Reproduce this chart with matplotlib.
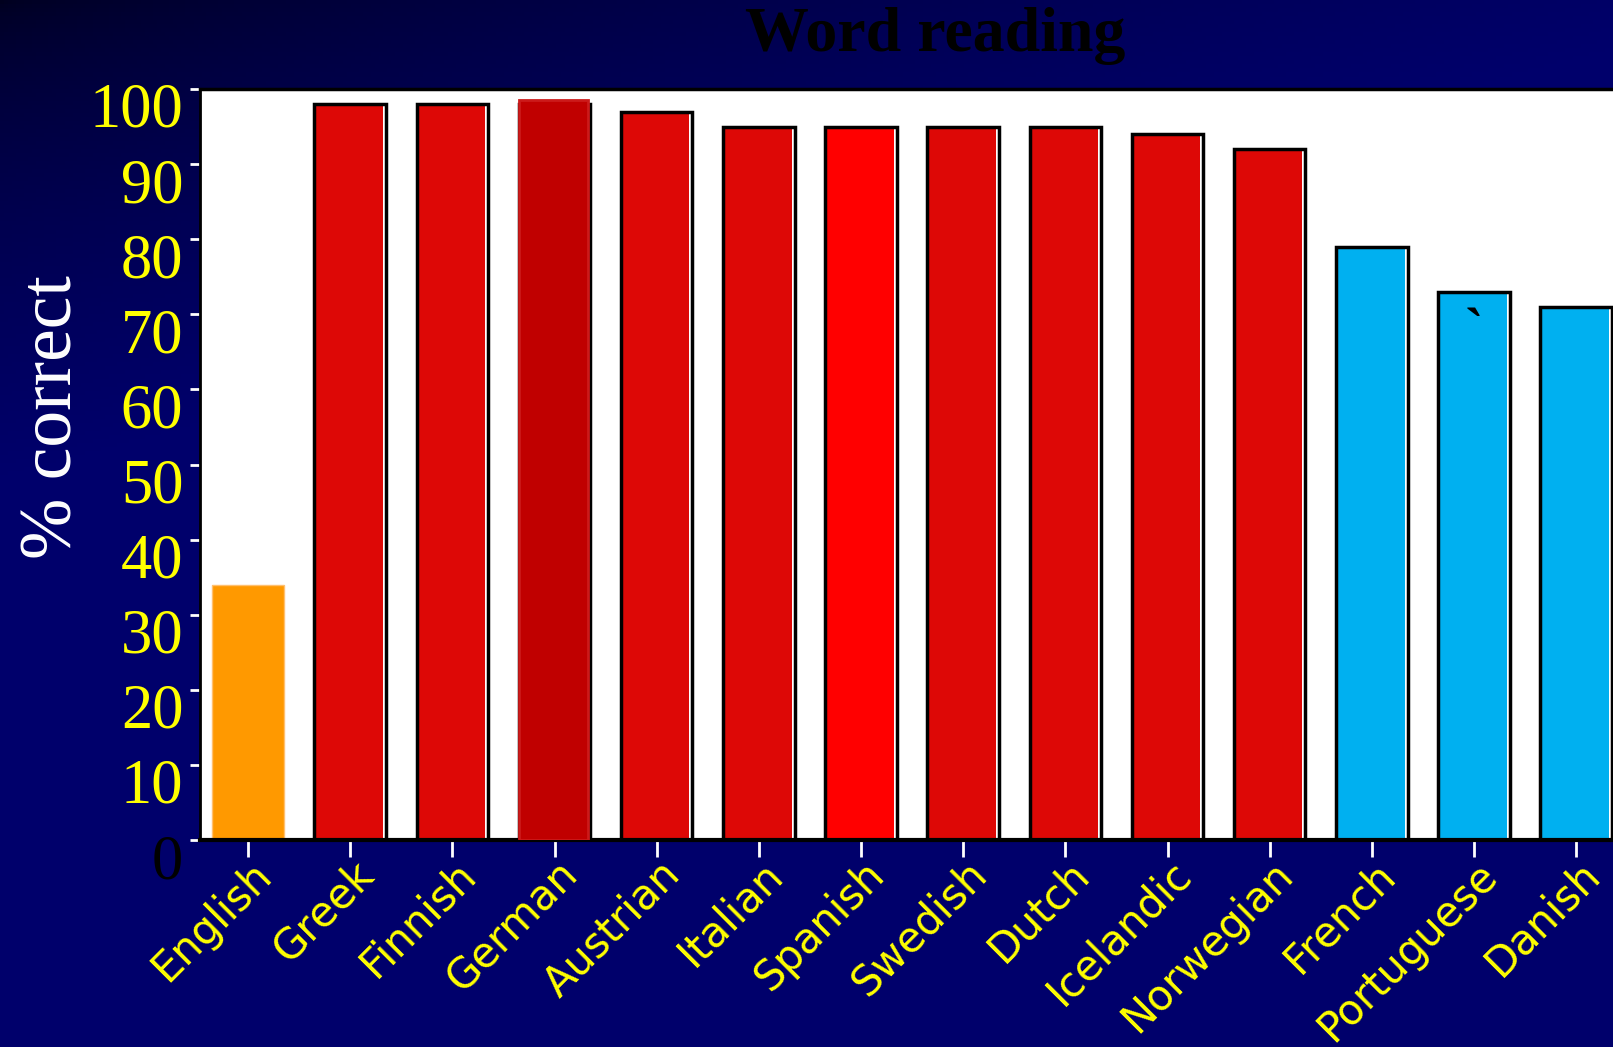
import numpy as np
import matplotlib
matplotlib.use('Agg')
import matplotlib.pyplot as plt
from matplotlib.transforms import ScaledTranslation

# Data
languages = ['English', 'Greek', 'Finnish', 'German', 'Austrian', 'Italian', 'Spanish',
             'Swedish', 'Dutch', 'Icelandic', 'Norwegian', 'French', 'Portuguese', 'Danish']
word_reading = [34, 98, 98, 98.6, 97, 95, 95, 95, 95, 94, 92, 79, 73, 71]
yticks = [0, 10, 20, 30, 40, 50, 60, 70, 80, 90, 100]

# Styles per bar
fill_colors = ['#FF9900', '#DD0806', '#DD0806', '#C00000', '#DD0806', '#DD0806', '#FF0000',
               '#DD0806', '#DD0806', '#DD0806', '#DD0806', '#00B0F0', '#00B0F0', '#00B0F0']
outlined = [False] + [True] * 13

fig = plt.figure(figsize=(16.13, 10.47), dpi=100)

# Navy gradient background (darker at top left)
bg = fig.add_axes([0, 0, 1, 1], zorder=-10)
gx, gy = np.meshgrid(np.linspace(0, 1, 400), np.linspace(0, 1, 260))
t = np.clip(gx * 0.9 + gy * 2.2, 0, 1) ** 0.6
grad = np.zeros((260, 400, 3))
grad[..., 2] = 0.12 + (0.42 - 0.12) * t
bg.imshow(grad, aspect='auto', extent=[0, 1, 0, 1], origin='upper')
bg.axis('off')

ax = fig.add_axes([0.124, 0.1977, 0.876, 0.7173])
ax.set_facecolor('white')

x = np.arange(len(languages))
bw = 0.70
for i, (v, c, o) in enumerate(zip(word_reading, fill_colors, outlined)):
    if not o:
        ax.bar(x[i], v, width=bw, color=c, edgecolor='#FFC070', linewidth=1, zorder=2)
    elif languages[i] == 'German':
        ax.bar(x[i], word_reading[i - 1], width=bw, facecolor='none', edgecolor='black',
               linewidth=2.5, zorder=2)
        ax.bar(x[i] - bw / 2, v, width=bw - 0.025, align='edge', color=c,
               edgecolor='#CC1A1A', linewidth=2, zorder=3)
    else:
        ax.bar(x[i] - bw / 2, v, width=bw - 0.03, align='edge', color=c, linewidth=0, zorder=2)
        ax.bar(x[i], v, width=bw, facecolor='none', edgecolor='black', linewidth=2.5, zorder=3)

# stray backtick inside the Portuguese bar
ax.text(x[languages.index('Portuguese')], 67.5, '`', color='black', fontsize=40,
        ha='center', va='center', family='Liberation Serif', fontweight='bold', zorder=4)

ax.set_xlim(-0.47, 13.36)
ax.set_ylim(0, 100)

for side in ['left', 'top', 'bottom']:
    ax.spines[side].set_color('black')
ax.spines['left'].set_linewidth(2)
ax.spines['top'].set_linewidth(2.5)
ax.spines['bottom'].set_linewidth(3)
ax.spines['right'].set_visible(False)

ax.set_yticks(yticks)
ax.set_yticklabels([str(v) for v in yticks], family='Liberation Serif', fontsize=45,
                   color='yellow')
ax.get_yticklabels()[0].set_color('black')
ax.tick_params(axis='y', direction='out', length=7, width=2, color='white', pad=5)
shift = ScaledTranslation(0, -0.16, fig.dpi_scale_trans)
for lab in ax.get_yticklabels():
    lab.set_transform(lab.get_transform() + shift)

ax.set_xticks(x)
ax.set_xticklabels(languages, family='DejaVu Sans', fontsize=30, color='yellow',
                   rotation=45, ha='right', va='center', rotation_mode='anchor')
ax.tick_params(axis='x', direction='out', length=12, width=2, color='white', pad=8)
xshift = ScaledTranslation(0.17, 0, fig.dpi_scale_trans)
for lab in ax.get_xticklabels():
    lab.set_transform(lab.get_transform() + xshift)

fig.text(0.0336, 0.602, '% correct', rotation=90, ha='center', va='center',
         family='Liberation Serif', fontsize=53, color='white')
fig.text(0.5795, 0.9656, 'Word reading', ha='center', va='center',
         family='Liberation Serif', fontweight='bold', fontsize=46, color='black')

fig.savefig('out.png', dpi=100)
